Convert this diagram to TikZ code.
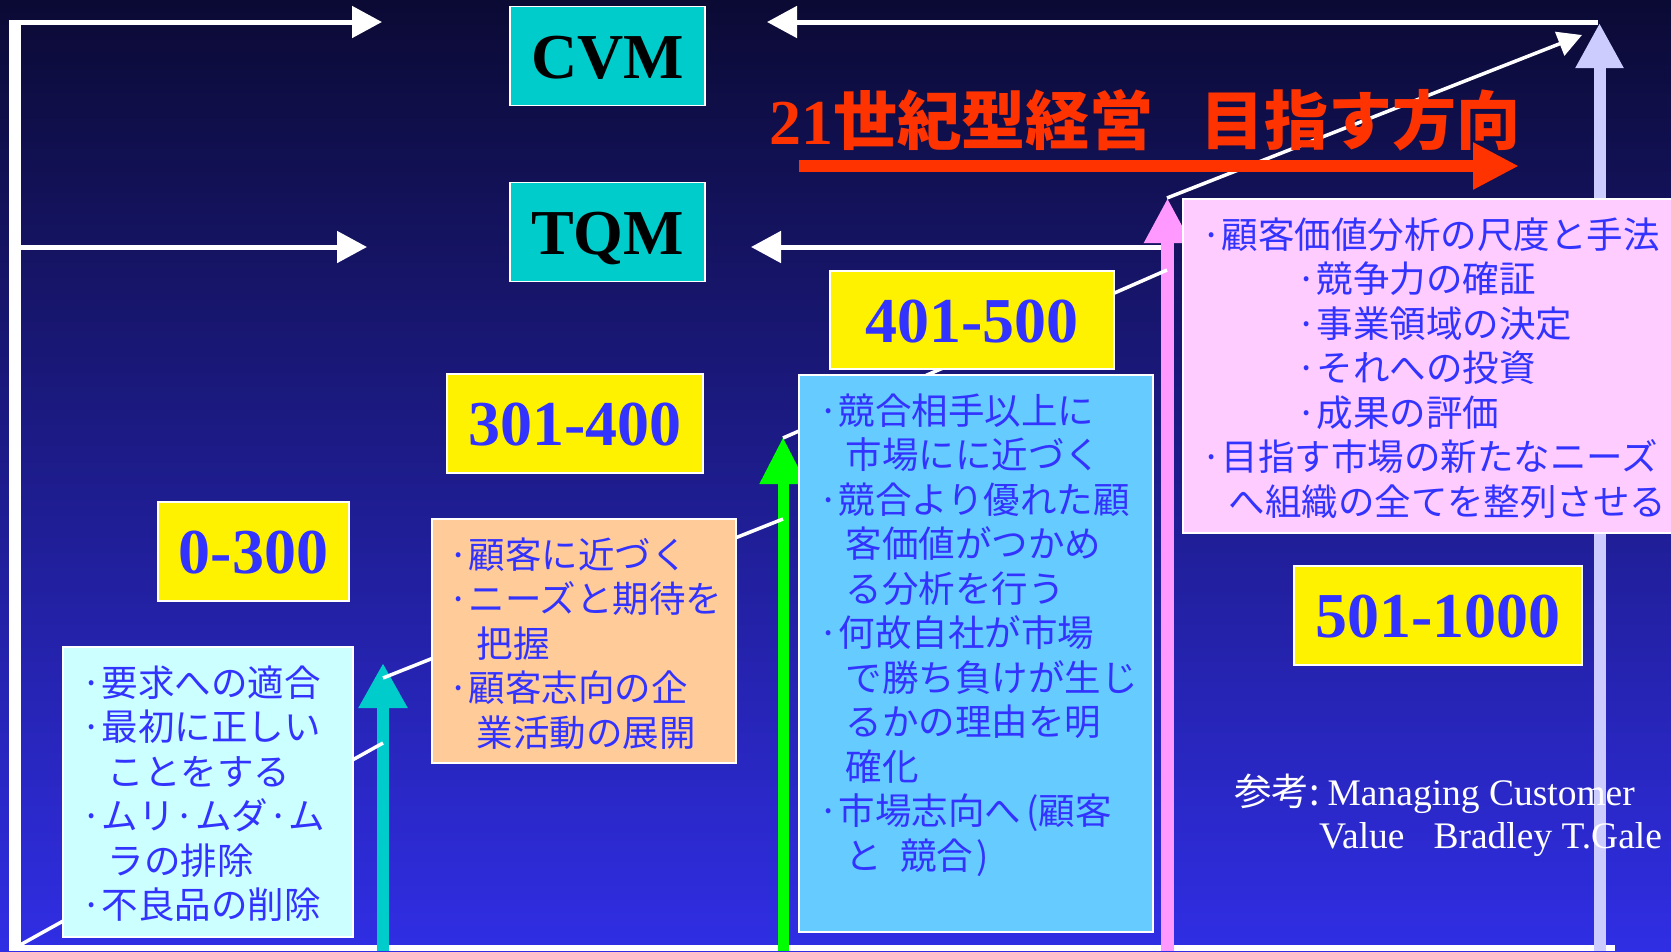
\documentclass[tikz,border=0pt]{standalone}
\usepackage{fontspec}
\setmainfont{Liberation Serif}
\newfontfamily\jp{Noto Sans CJK JP}
\usetikzlibrary{arrows.meta}
\definecolor{bgtop}{RGB}{11,10,52}
\definecolor{bgmid}{RGB}{28,28,140}
\definecolor{bgbot}{RGB}{48,46,228}
\definecolor{txtblue}{RGB}{51,51,255}
\definecolor{redt}{RGB}{255,51,0}
\definecolor{tealc}{RGB}{0,204,204}
\definecolor{greenc}{RGB}{0,255,0}
\definecolor{pinkc}{RGB}{255,153,255}
\definecolor{lavc}{RGB}{204,204,255}
\definecolor{boxcyan}{RGB}{204,255,255}
\definecolor{boxorange}{RGB}{255,204,153}
\definecolor{boxblue}{RGB}{102,204,255}
\definecolor{boxpink}{RGB}{255,204,255}
\newcommand\bul{\makebox[13pt][l]{\makebox[6pt][c]{·}}}
\newcommand\ind{\hspace*{20pt}}
\newcommand\subb{\hspace*{95pt}\bul}
\newcommand\jplines[4]{\foreach \t [count=\i from 0] in {#4}{\node[jptext] (#1\i) at (#2,{#3+44.5*\i}) {\t};}}
\begin{document}
\begin{tikzpicture}[x=1pt,y=-1pt,
  wline/.style={draw=white,line width=5pt},
  whead/.style={-{Triangle[length=30pt,width=31pt]}},
  diag/.style={draw=white,line width=3.5pt},
  rangebox/.style={draw=white,line width=1.5pt,fill=yellow,text=txtblue,font=\fontsize{64}{64}\selectfont\bfseries,minimum height=99pt,inner sep=0pt,text height=44pt,text depth=0pt},
  mgmtbox/.style={draw=white,line width=1.5pt,fill=tealc,text=black,font=\fontsize{64}{64}\selectfont\bfseries,minimum width=195pt,minimum height=99pt,inner sep=0pt,text height=44pt,text depth=0pt},
  textbox/.style={draw=white,line width=1.5pt,anchor=north west,inner sep=0pt},
  jptext/.style={text=txtblue,font=\jp\fontsize{36.5}{44.5}\selectfont,inner sep=0pt,anchor=base west},
  reftext/.style={text=white,font=\fontsize{37.5}{45}\selectfont,inner sep=0pt,anchor=base west},
]
\useasboundingbox (0,0) rectangle (1671,951);
\shade[top color=bgtop,middle color=bgmid,bottom color=bgbot] (0,0) rectangle (1671,951);

% frame coordinates
\coordinate (ltop) at (15,20);
\coordinate (lbot) at (15,951);
\coordinate (tl) at (15,22);
\coordinate (tlend) at (382,22);
\coordinate (ml) at (15,247);
\coordinate (mlend) at (367,247);
\coordinate (tr) at (1598,22);
\coordinate (trend) at (767,22);
\coordinate (mr) at (1167,247);
\coordinate (mrend) at (751,247);
\coordinate (bl) at (15,948);
\coordinate (br) at (1615,948);

\draw[white,line width=12pt] (ltop) -- (lbot);
\draw[white,line width=6pt] (bl) -- (br);
\draw[wline,whead] (tl) -- (tlend);
\draw[wline,whead] (ml) -- (mlend);
\draw[wline,whead] (tr) -- (trend);
\draw[wline,whead] (mr) -- (mrend);

% big upward arrows
\coordinate (teal0) at (383,951);   \coordinate (teal1) at (383,663);
\coordinate (green0) at (783,951);  \coordinate (green1) at (783,437);
\coordinate (pink0) at (1167.5,951); \coordinate (pink1) at (1167.5,198);
\coordinate (lav0) at (1599.5,951); \coordinate (lav1) at (1599.5,23);
\draw[tealc,line width=11.5pt,-{Triangle[length=45pt,width=46pt]}] (teal0) -- (teal1);
\draw[greenc,line width=11pt,-{Triangle[length=47pt,width=44pt]}] (green0) -- (green1);
\draw[pinkc,line width=13pt,-{Triangle[length=45pt,width=44pt]}] (pink0) -- (pink1);
\draw[lavc,line width=12pt,-{Triangle[length=45pt,width=45pt]}] (lav0) -- (lav1);

% diagonal steps
\coordinate (d1a) at (20,945);   \coordinate (d1b) at (383,743);
\coordinate (d2a) at (383,678);  \coordinate (d2b) at (783,519);
\coordinate (d3a) at (783,438);  \coordinate (d3b) at (1167,270);
\coordinate (d4a) at (1167,198); \coordinate (d4b) at (1582,35);
\draw[diag] (d1a) -- (d1b);
\draw[diag] (d2a) -- (d2b);
\draw[diag] (d3a) -- (d3b);
\draw[diag,-{Triangle[length=24pt,width=25pt]}] (d4a) -- (d4b);

% red title and arrow
\coordinate (ra) at (799,166); \coordinate (rb) at (1519,166);
\draw[redt,line width=12pt,-{Triangle[length=46pt,width=44pt]}] (ra) -- (rb);
\node[anchor=base west,text=redt,font=\fontsize{64}{64}\selectfont\bfseries,inner sep=0pt] (title) at (769,144) {21{\jp 世紀型経営\hspace{47pt}目指す方向}};

% text boxes
\node[textbox,fill=boxcyan,minimum width=290pt,minimum height=290pt] (cybox) at (62,646) {};
\node[textbox,fill=boxorange,minimum width=304pt,minimum height=244pt] (orbox) at (431,518) {};
\node[textbox,fill=boxblue,minimum width=354pt,minimum height=557pt] (blbox) at (798,374) {};
\node[textbox,fill=boxpink,minimum width=520pt,minimum height=334pt] (pkbox) at (1182,198) {};

% label boxes
\node[mgmtbox] (CVM) at (607.5,56) {CVM};
\node[mgmtbox] (TQM) at (607.5,232) {TQM};
\node[rangebox,minimum width=191pt] (r1) at (253.5,551.5) {0-300};
\node[rangebox,minimum width=256pt] (r2) at (575,423.5) {301-400};
\node[rangebox,minimum width=284pt,minimum height=98pt] (r3) at (972,320) {401-500};
\node[rangebox,minimum width=288pt] (r4) at (1438,615.5) {501-1000};

% texts
\jplines{cy}{88.5}{696}{{\bul 要求への適合},{\bul 最初に正しい},{\hspace*{19pt}ことをする},{\bul ムリ·ムダ·ム},{\hspace*{19pt}ラの排除},{\bul 不良品の削除}}
\jplines{or}{455.5}{568}{{\bul 顧客に近づく},{\bul ニーズと期待を},{\hspace*{21pt}把握},{\bul 顧客志向の企},{\hspace*{21pt}業活動の展開}}
\jplines{bl}{825.5}{424}{{\bul 競合相手以上に},{\ind 市場にに近づく},{\bul 競合より優れた顧},{\ind 客価値がつかめ},{\ind る分析を行う},{\bul 何故自社が市場},{\ind で勝ち負けが生じ},{\ind るかの理由を明},{\ind 確化},{\bul 市場志向へ\hspace{5pt}(顧客},{\ind と\hspace{18pt}競合\hspace{3pt})}}
\jplines{pk}{1208.5}{248}{{\bul 顧客価値分析の尺度と手法},{\subb 競争力の確証},{\subb 事業領域の決定},{\subb それへの投資},{\subb 成果の評価},{\bul 目指す市場の新たなニーズ},{\ind へ組織の全てを整列させる}}

% reference
\node[reftext] (ref1) at (1234,805) {{\jp 参考:}\hspace{8pt}Managing Customer};
\node[reftext] (ref2) at (1319,848) {Value\hspace{29pt}Bradley T.Gale};
\end{tikzpicture}
\end{document}
